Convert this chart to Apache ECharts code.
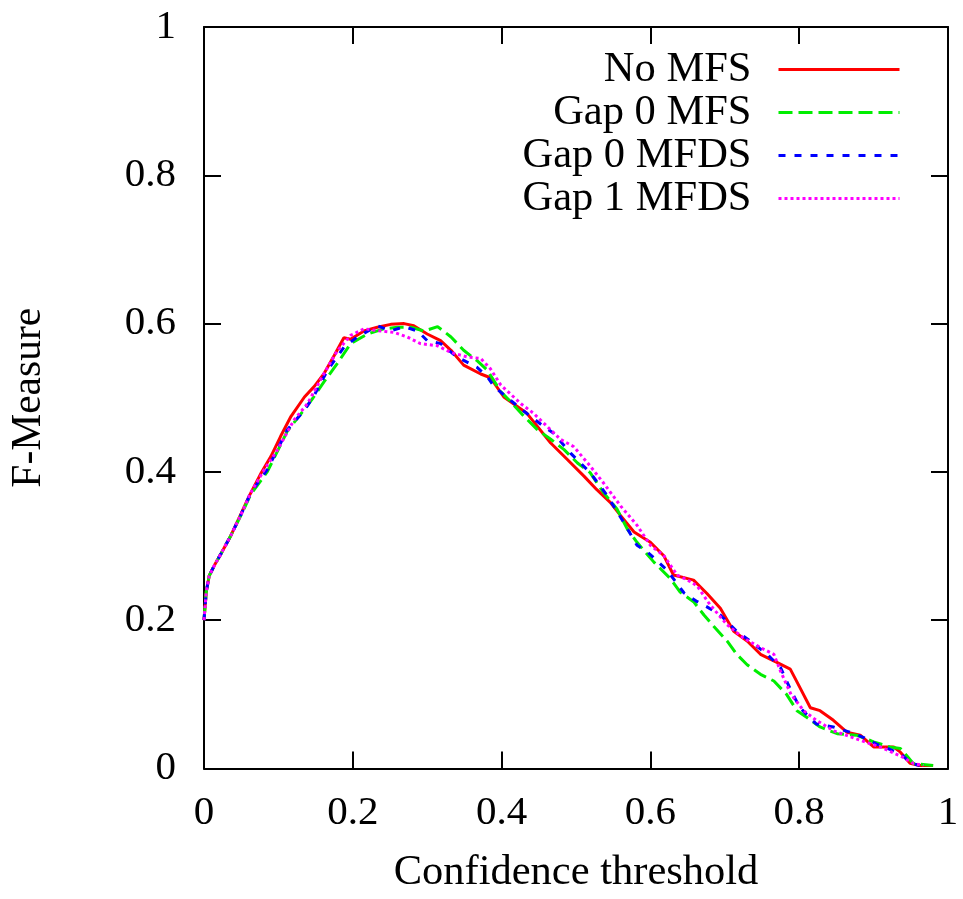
<!DOCTYPE html>
<html>
<head>
<meta charset="utf-8">
<script src="https://cdn.jsdelivr.net/npm/echarts@6/dist/echarts.min.js"></script>
<style>html,body{margin:0;padding:0;background:#fff}#c{width:963px;height:899px}</style>
</head>
<body>
<div id="c"></div>
<script>
const seriesNames = ['No MFS', 'Gap 0 MFS', 'Gap 0 MFDS', 'Gap 1 MFDS'];
const xTicks = [0, 0.2, 0.4, 0.6, 0.8, 1];
const yTicks = [0, 0.2, 0.4, 0.6, 0.8, 1];

const noMfsX = [0,0.003,0.007,0.014,0.023,0.036,0.05,0.061,0.077,0.09,0.103,0.117,0.135,0.148,0.161,0.175,0.188,0.197,0.215,0.233,0.251,0.269,0.282,0.300,0.318,0.332,0.349,0.372,0.385,0.403,0.434,0.466,0.488,0.511,0.528,0.546,0.560,0.578,0.600,0.618,0.631,0.658,0.676,0.694,0.712,0.730,0.748,0.770,0.788,0.801,0.815,0.828,0.846,0.864,0.882,0.900,0.927,0.936,0.949,0.962,0.980];
const noMfsY = [0.2,0.238,0.26,0.274,0.29,0.314,0.344,0.368,0.399,0.421,0.448,0.475,0.501,0.515,0.532,0.557,0.581,0.579,0.590,0.595,0.599,0.600,0.597,0.586,0.577,0.564,0.544,0.532,0.527,0.501,0.479,0.439,0.417,0.394,0.376,0.359,0.341,0.319,0.305,0.287,0.261,0.254,0.236,0.216,0.185,0.172,0.154,0.143,0.134,0.109,0.082,0.078,0.065,0.049,0.045,0.029,0.029,0.022,0.007,0.004,0.004];

const gap0MfsX = [0,0.003,0.007,0.014,0.023,0.036,0.05,0.063,0.085,0.112,0.13,0.146,0.161,0.179,0.197,0.22,0.242,0.26,0.278,0.296,0.314,0.332,0.349,0.367,0.381,0.399,0.412,0.43,0.448,0.466,0.484,0.502,0.519,0.537,0.555,0.569,0.582,0.605,0.627,0.640,0.658,0.672,0.685,0.703,0.716,0.730,0.748,0.766,0.783,0.797,0.81,0.828,0.851,0.877,0.90,0.922,0.936,0.944,0.953,0.98];
const gap0MfsY = [0.2,0.238,0.26,0.274,0.29,0.314,0.342,0.37,0.40,0.455,0.478,0.499,0.521,0.546,0.573,0.586,0.593,0.595,0.595,0.590,0.596,0.582,0.564,0.550,0.537,0.508,0.495,0.475,0.457,0.444,0.43,0.412,0.399,0.372,0.35,0.323,0.305,0.278,0.256,0.238,0.225,0.207,0.192,0.172,0.154,0.140,0.127,0.118,0.100,0.078,0.069,0.056,0.047,0.045,0.036,0.029,0.027,0.018,0.007,0.004];

const gap0MfdsX = [0,0.003,0.007,0.014,0.023,0.036,0.05,0.063,0.085,0.112,0.135,0.148,0.166,0.188,0.206,0.233,0.251,0.269,0.287,0.30,0.318,0.34,0.367,0.381,0.39,0.426,0.457,0.47,0.493,0.519,0.542,0.564,0.582,0.596,0.622,0.645,0.663,0.676,0.694,0.716,0.734,0.757,0.775,0.789,0.801,0.823,0.846,0.868,0.886,0.904,0.936,0.951,0.962];
const gap0MfdsY = [0.2,0.238,0.26,0.274,0.29,0.314,0.343,0.372,0.403,0.457,0.483,0.503,0.537,0.568,0.582,0.597,0.590,0.596,0.590,0.577,0.573,0.555,0.541,0.528,0.515,0.485,0.461,0.452,0.425,0.399,0.368,0.332,0.301,0.292,0.268,0.237,0.225,0.218,0.207,0.185,0.172,0.154,0.136,0.105,0.082,0.060,0.056,0.049,0.042,0.033,0.020,0.007,0.004];

const gap1MfdsX = [0,0.003,0.007,0.014,0.023,0.036,0.05,0.063,0.081,0.099,0.121,0.139,0.161,0.179,0.197,0.215,0.238,0.256,0.273,0.291,0.314,0.332,0.354,0.372,0.385,0.399,0.426,0.443,0.479,0.497,0.519,0.537,0.56,0.582,0.6,0.618,0.636,0.654,0.663,0.68,0.703,0.725,0.748,0.766,0.775,0.789,0.806,0.823,0.846,0.882,0.909,0.94,0.953,0.967];
const gap1MfdsY = [0.2,0.238,0.26,0.274,0.29,0.314,0.343,0.372,0.403,0.43,0.47,0.492,0.532,0.563,0.584,0.593,0.590,0.588,0.582,0.573,0.570,0.561,0.555,0.553,0.539,0.517,0.492,0.479,0.444,0.434,0.408,0.385,0.354,0.328,0.301,0.287,0.261,0.252,0.246,0.221,0.194,0.176,0.163,0.154,0.131,0.1,0.078,0.065,0.051,0.038,0.029,0.015,0.007,0.004];

function pairs(xs, ys) { return xs.map((x, i) => [x, ys[i]]); }

const FONT = 'Liberation Serif';
const chart = echarts.init(document.getElementById('c'), null, {renderer: 'canvas'});

const axisCommon = {
  type: 'value', min: 0, max: 1, interval: 0.2,
  splitLine: {show: false},
  axisLine: {show: true, onZero: false, lineStyle: {color: '#000', width: 2}},
  axisTick: {show: true, inside: true, length: 17, lineStyle: {color: '#000', width: 2}}
};

chart.setOption({
  animation: false,
  backgroundColor: '#fff',
  grid: {left: 203, right: 15, top: 27, bottom: 124, containLabel: false},
  legend: {
    orient: 'vertical', right: 57, top: 43, align: 'right',
    itemWidth: 121, itemHeight: 14, itemGap: 0,
    itemStyle: {opacity: 0},
    lineStyle: {width: 3},
    textStyle: {fontFamily: FONT, fontSize: 42.5, color: '#000', lineHeight: 42.5, padding: [0, 22, 0, 0]},
    data: seriesNames
  },
  xAxis: [
    Object.assign({}, axisCommon, {
      position: 'bottom',
      name: 'Confidence threshold', nameLocation: 'middle', nameGap: 104,
      nameTextStyle: {fontFamily: FONT, fontSize: 42.5, color: '#000', verticalAlign: 'middle'},
      axisLabel: {fontFamily: FONT, fontSize: 41, color: '#000', margin: 24}
    }),
    Object.assign({}, axisCommon, {position: 'top', axisLabel: {show: false}})
  ],
  yAxis: [
    Object.assign({}, axisCommon, {
      position: 'left',
      name: 'F-Measure', nameLocation: 'middle', nameGap: 175, nameRotate: 90,
      nameTextStyle: {fontFamily: FONT, fontSize: 41.5, color: '#000', verticalAlign: 'middle'},
      axisLabel: {fontFamily: FONT, fontSize: 41, color: '#000', margin: 28}
    }),
    Object.assign({}, axisCommon, {position: 'right', axisLabel: {show: false}})
  ],
  series: [
    {name: seriesNames[0], type: 'line', symbol: 'none', data: pairs(noMfsX, noMfsY),
     lineStyle: {color: '#ff0000', width: 3, type: 'solid'}, itemStyle: {color: '#ff0000'}},
    {name: seriesNames[1], type: 'line', symbol: 'none', data: pairs(gap0MfsX, gap0MfsY),
     lineStyle: {color: '#00ee00', width: 3, type: [14, 6]}, itemStyle: {color: '#00ee00'}},
    {name: seriesNames[2], type: 'line', symbol: 'none', data: pairs(gap0MfdsX, gap0MfdsY),
     lineStyle: {color: '#0000ff', width: 3, type: [7, 9]}, itemStyle: {color: '#0000ff'}},
    {name: seriesNames[3], type: 'line', symbol: 'none', data: pairs(gap1MfdsX, gap1MfdsY),
     lineStyle: {color: '#ff00ff', width: 3, type: [3, 3]}, itemStyle: {color: '#ff00ff'}}
  ]
});
</script>
</body>
</html>
